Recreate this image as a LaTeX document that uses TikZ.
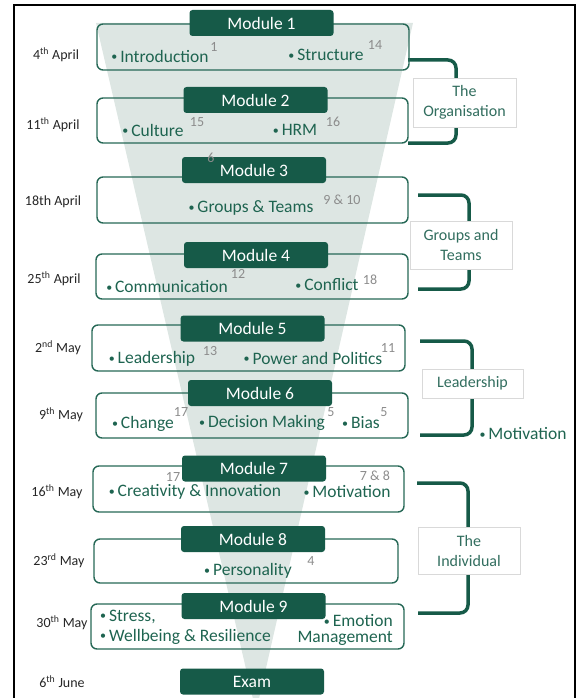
\documentclass[tikz,border=0pt]{standalone}
\usepackage{fontspec}
\setmainfont{Carlito}
\usepackage{xcolor}
\usepackage{tikz}
\definecolor{modgreen}{RGB}{22,90,72}
\definecolor{boxgreen}{RGB}{38,104,86}
\definecolor{itemgreen}{RGB}{30,100,80}
\definecolor{labgreen}{RGB}{50,110,95}
\definecolor{funnelgrey}{RGB}{221,230,227}
\definecolor{numgrey}{RGB}{140,140,140}
\newcommand{\itembul}{\raisebox{1.5pt}{\fontsize{12}{12}\selectfont •}\,}

\begin{document}
\begin{tikzpicture}[x=1pt,y=-1pt,
  modbox/.style={draw=boxgreen, line width=1.4pt, rounded corners=6pt, minimum width=312pt, minimum height=46pt},
  modhead/.style={fill=modgreen, text=white, rounded corners=3pt, minimum width=144pt, minimum height=26pt, inner sep=0pt, font=\fontsize{17.5}{20}\selectfont},
  item/.style={text=itemgreen, inner sep=0pt, font=\fontsize{17.5}{20}\selectfont},
  srcnum/.style={text=numgrey, inner sep=0pt, font=\fontsize{14}{16}\selectfont},
  date/.style={text=black!85, inner sep=0pt, font=\fontsize{14}{16}\selectfont},
  theme/.style={draw=black!15, fill=white, text=labgreen, align=center, inner sep=0pt, font=\fontsize{16}{20}\selectfont},
  brk/.style={draw=modgreen, line width=3.5pt, rounded corners=8pt}]
\useasboundingbox (0,0) rectangle (580,698);
\draw [line width=1.5pt] (14,698) -- (14,5) -- (575,5) -- (575,698);
\fill [funnelgrey] (96,23) -- (413,23) -- (256,712) -- cycle;

% brackets
\coordinate (org top) at (408,60);
\coordinate (org mid) at (456,101);
\coordinate (org bot) at (408,143);
\draw [brk] (org top) -| (org mid) |- (org bot);
\coordinate (grp top) at (418,195);
\coordinate (grp mid) at (469,245);
\coordinate (grp bot) at (418,289);
\draw [brk] (grp top) -| (grp mid) |- (grp bot);
\coordinate (lead top) at (420,341);
\coordinate (lead mid) at (472,388);
\coordinate (lead bot) at (420,435);
\draw [brk] (lead top) -| (lead mid) |- (lead bot);
\coordinate (ind top) at (417,483);
\coordinate (ind mid) at (468,550);
\coordinate (ind bot) at (418,613);
\draw [brk] (ind top) -| (ind mid) |- (ind bot);

% module boxes
\node [modbox] (box1) at (253,47) {};
\node [modbox, minimum width=311pt, minimum height=45pt] (box2) at (252.5,120.5) {};
\node [modbox, minimum width=311pt] (box3) at (252.5,200) {};
\node [modbox, minimum height=45pt] (box4) at (252,276.5) {};
\node [modbox, minimum width=313pt] (box5) at (248.5,348) {};
\node [modbox, minimum height=45pt] (box6) at (252,415.5) {};
\node [modbox, minimum width=311pt] (box7) at (248.5,489) {};
\node [modbox, minimum width=304pt, minimum height=44pt] (box8) at (246,561) {};
\node [modbox, minimum width=313pt, minimum height=45pt] (box9) at (247.5,626.5) {};

% headers
\node [modhead] (mod1) at (261.5,23) {Module 1};
\node [modhead] (mod2) at (255.5,100) {Module 2};
\node [modhead] (mod3) at (254,170) {Module 3};
\node [modhead] (mod4) at (256,255) {Module 4};
\node [modhead] (mod5) at (252.5,328.5) {Module 5};
\node [modhead] (mod6) at (260,393) {Module 6};
\node [modhead] (mod7) at (254,468.5) {Module 7};
\node [modhead] (mod8) at (253,539) {Module 8};
\node [modhead] (mod9) at (253.5,606) {Module 9};
\node [modhead] (exam) at (252,681.5) {Exam};

% dates
\node [date] (d1) at (56,55) {4\textsuperscript{th} April};
\node [date] (d2) at (53,125) {11\textsuperscript{th} April};
\node [date] (d3) at (53,202) {18th April};
\node [date] (d4) at (54,279) {25\textsuperscript{th} April};
\node [date] (d5) at (58,348) {2\textsuperscript{nd} May};
\node [date] (d6) at (61,415) {9\textsuperscript{th} May};
\node [date] (d7) at (57,492) {16\textsuperscript{th} May};
\node [date] (d8) at (59,561) {23\textsuperscript{rd} May};
\node [date] (d9) at (62,623) {30\textsuperscript{th} May};
\node [date] (d10) at (62,682) {6\textsuperscript{th} June};

% topics
\node [item] (intro) at (160,56) {\itembul Introduction};
\node [srcnum] at (214,47) {1};
\node [item] (struct) at (326,55) {\itembul Structure};
\node [srcnum] at (375,45) {14};
\node [item] (cult) at (153,130) {\itembul Culture};
\node [srcnum] at (197,122) {15};
\node [item] (hrm) at (295,130) {\itembul HRM};
\node [srcnum] at (333,122) {16};
\node [srcnum] at (211,158) {6};
\node [item] (groups) at (251,208) {\itembul Groups \& Teams};
\node [srcnum] at (342,200) {9 \& 10};
\node [item] (comm) at (167,287) {\itembul Communication};
\node [srcnum] at (238,274) {12};
\node [item] (confl) at (327,285) {\itembul Conflict};
\node [srcnum] at (370,280) {18};
\node [item] (lead) at (152,359) {\itembul Leadership};
\node [srcnum] at (210,351) {13};
\node [item] (power) at (313,358) {\itembul Power and Politics};
\node [srcnum] at (388,348) {11};
\node [item] (change) at (143,424) {\itembul Change};
\node [srcnum] at (181,412) {17};
\node [item] (decis) at (262,423) {\itembul Decision Making};
\node [srcnum] at (331,412) {5};
\node [item] (bias) at (361,423) {\itembul Bias};
\node [srcnum] at (384,412) {5};
\node [item] (creat) at (195,492) {\itembul Creativity \& Innovation};
\node [srcnum] at (173,477) {17};
\node [item] (motiv) at (347,492) {\itembul Motivation};
\node [srcnum] at (375,476) {7 \& 8};
\node [item] (person) at (248,571) {\itembul Personality};
\node [srcnum] at (311,561) {4};
\node [item, align=left, anchor=west] (stress) at (100,627) {\itembul Stress,\\\itembul Wellbeing \& Resilience};
\node [item, align=right, anchor=east, font=\fontsize{17.5}{16}\selectfont] (emot) at (393,630) {\itembul Emotion\\Management};

% themes
\node [theme, minimum width=103pt, minimum height=49pt] (org) at (464.5,102.5) {The\\Organisation};
\node [theme, minimum width=102pt, minimum height=48pt] (grp) at (461,245) {Groups and\\Teams};
\node [theme, minimum width=101pt, minimum height=29pt] (leadlab) at (472.5,383.5) {Leadership};
\node [theme, minimum width=102pt, minimum height=47pt] (ind) at (469,550.5) {The\\Individual};
\node [item] (motiv2) at (523,434) {\itembul Motivation};
\end{tikzpicture}
\end{document}
